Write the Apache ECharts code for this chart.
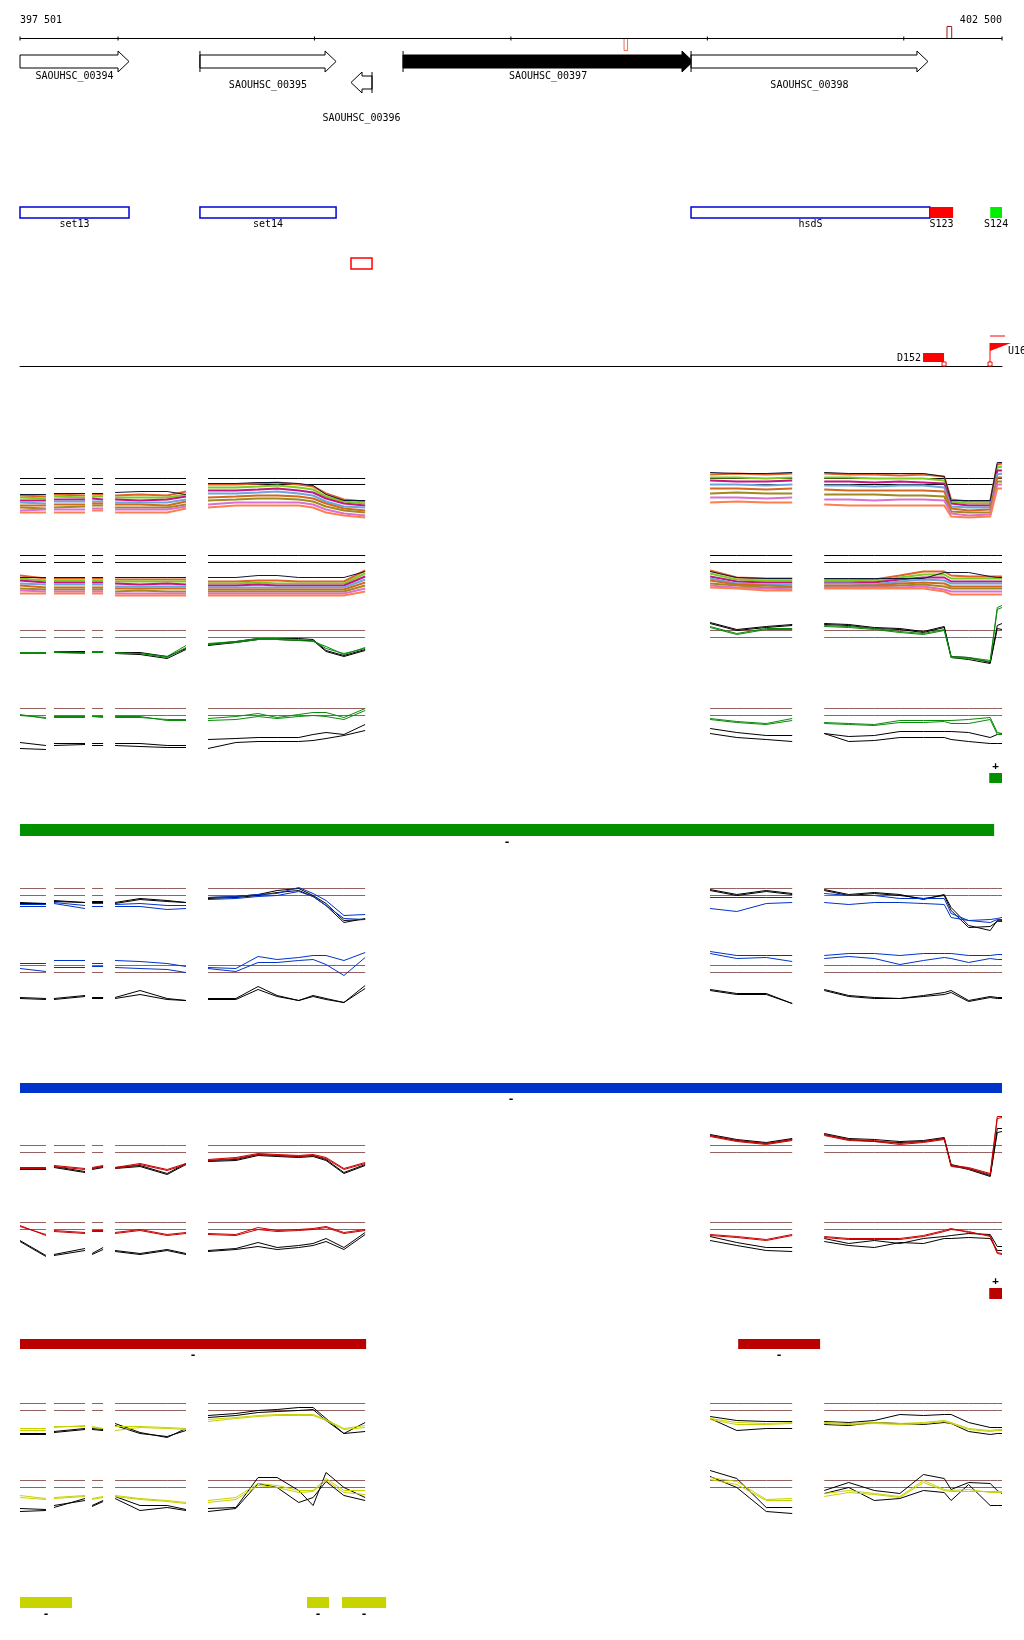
<!DOCTYPE html>
<html>
<head>
<meta charset="utf-8">
<title>SAOUHSC_00394 - SAOUHSC_00398</title>
<script src="https://cdn.jsdelivr.net/npm/echarts@6/dist/echarts.min.js"></script>
<style>
  html, body { margin: 0; padding: 0; background: #fff; }
  #chart { width: 1024px; height: 1640px; }
</style>
</head>
<body>
<div id="chart"></div>
<script>
// genome window
const viewStart = 397501;
const viewEnd = 402500;
const rulerTicks = [397501, 398000, 399000, 400000, 401000, 402000, 402500];
const rulerMarks = [[400576, 400594, 1], [402220, 402244, -1]]; // start, end, side of ruler
const rulerMarkKinds = ["probe", "repeat"];

// genes
const geneNames = ["SAOUHSC_00394", "SAOUHSC_00395", "SAOUHSC_00396", "SAOUHSC_00397", "SAOUHSC_00398"];
const geneStarts = [397501, 398417, 399186, 399451, 400917];
const geneEnds = [398056, 399110, 399293, 400927, 402123];
const geneStrands = [1, 1, -1, 1, 1];
const geneLanes = [0, 0, 1, 0, 0];
const geneHighlight = [0, 0, 0, 1, 0];
const geneLabelRows = [0, 1, 2, 0, 1];

// annotation features
const featNames = ["set13", "set14", "hsdS", "S123", "S124"];
const featStarts = [397501, 398417, 400917, 402133, 402440];
const featEnds = [398056, 399110, 402133, 402251, 402500];
const featKinds = ["cds", "cds", "cds", "srnaA", "srnaB"];
const boxSpans = [[399186, 399293]];

// transcription sites
const siteNames = ["D152", "U16"];
const siteStarts = [402098, 402439];
const siteEnds = [402205, 402439];
const siteKinds = ["down", "up"];

// probe positions (one array per covered segment)
const segPos = [
  [397501, 397633],
  [397674, 397832],
  [397868, 397924],
  [397985, 398112, 398250, 398346],
  [398458, 398600, 398713, 398810, 398920, 398993, 399059, 399150, 399258],
  [401014, 401150, 401300, 401432],
  [401595, 401720, 401850, 401980, 402100, 402206, 402241, 402330, 402440, 402476, 402500]
];

// track A: many conditions
const refsA = [47, 41];
const multiA = [
  [30,29, 31,30, 31,31, 30,31,30,34, 41,41,42,43,41,39,32,26,24, 51,52,51,52, 52,51,51,50,51,49,26,24,24,61,62],
  [28,27, 29,28, 29,29, 28,28,28,31, 38,38,39,40,38,36,29,24,22, 48,48,47,48, 48,48,47,47,47,45,24,22,22,58,59],
  [25,25, 26,26, 27,26, 26,25,26,29, 35,35,36,37,35,33,27,22,20, 45,44,44,45, 44,44,43,44,43,42,22,20,20,55,55],
  [23,22, 24,24, 24,24, 23,23,23,26, 32,32,33,34,32,30,24,19,18, 41,41,40,41, 40,40,39,40,40,38,19,18,18,51,52],
  [20,20, 21,21, 22,22, 21,21,20,24, 28,29,30,30,29,27,22,17,15, 37,37,36,37, 36,35,35,35,35,34,17,15,16,48,48],
  [18,17, 18,19, 20,20, 18,18,18,21, 25,26,27,27,26,24,19,15,13, 32,33,32,32, 31,31,31,30,30,29,14,13,13,44,44],
  [15,16, 16,16, 17,17, 16,16,16,19, 21,23,23,23,23,21,16,12,10, 28,28,27,28, 26,26,25,26,26,25,12,10,11,41,41],
  [13,13, 13,13, 15,15, 13,13,13,17, 18,20,20,20,20,18,13,10,8, 23,24,23,23, 21,20,20,20,20,20,9,8,9,37,37]
];
const blackA = [31,31, 32,32, 32,32, 33,34,34,31, 42,42,43,43,42,40,31,25,25, 53,52,52,53, 53,52,52,52,52,49,25,25,25,63,63];

// track B: many conditions
const refsB = [50, 43];
const multiB = [
  [30,27, 27,27, 27,27, 26,26,26,26, 24,24,25,25,24,24,24,24,35, 35,28,27,27, 26,26,26,30,34,34,30,29,29,29,29],
  [27,25, 25,25, 25,25, 24,24,24,24, 22,22,23,22,22,22,22,22,32, 32,26,25,25, 25,25,24,28,31,31,27,27,27,27,27],
  [25,23, 23,23, 23,23, 22,21,22,21, 20,20,21,20,20,20,20,20,29, 29,24,23,23, 23,23,23,26,28,28,24,24,24,24,24],
  [22,21, 21,21, 21,21, 19,19,19,19, 18,18,18,18,18,18,18,18,26, 27,22,21,21, 22,22,21,24,26,25,22,22,22,22,22],
  [20,18, 18,18, 18,18, 17,17,17,17, 16,16,16,16,16,16,16,16,23, 25,21,20,19, 20,20,20,22,23,22,19,19,19,19,19],
  [17,16, 16,16, 16,16, 14,15,14,14, 14,14,14,14,14,14,14,14,20, 22,20,18,18, 19,19,19,20,21,19,17,17,17,17,17],
  [15,14, 14,14, 14,14, 12,12,12,12, 12,12,12,12,12,12,12,12,17, 20,18,17,16, 18,18,18,18,19,16,14,14,14,14,14],
  [12,12, 12,12, 12,12, 10,10,10,10, 10,10,10,10,10,10,10,10,14, 18,17,15,15, 17,17,17,17,17,14,11,11,11,11,11]
];
const blackB = [28,28, 28,28, 28,28, 28,28,28,28, 28,28,30,30,28,28,28,28,34, 34,28,27,27, 27,27,27,27,27,33,33,33,29,28,28];

// track C / D: green condition
const refsC = [45, 38];
const greenC = [
  [23,23, 24,23, 24,24, 23,22,18,28, 32,34,37,37,36,35,27,22,27, 49,42,47,47, 50,49,47,44,42,46,19,18,15,68,70],
  [22,22, 23,22, 23,23, 22,22,19,30, 31,33,36,36,35,34,29,21,28, 48,41,46,46, 49,48,46,43,41,45,18,17,14,66,68]
];
const blackC = [
  [23,23, 24,24, 24,24, 23,23,19,27, 31,34,37,37,37,36,25,20,26, 53,46,49,51, 52,51,48,47,44,49,19,18,13,50,52],
  [22,22, 23,23, 23,24, 22,21,17,26, 30,33,36,36,35,35,24,19,25, 52,45,48,50, 51,50,47,46,43,48,18,16,12,47,46]
];
const refsD = [52, 45];
const greenD = [
  [46,42, 44,44, 44,44, 44,44,40,40, 42,44,47,43,46,48,48,43,52, 42,39,37,42, 38,37,36,40,40,40,40,41,43,28,27],
  [45,43, 43,43, 44,43, 43,43,41,41, 40,41,44,42,44,45,44,41,50, 41,38,36,40, 37,36,35,38,38,39,37,37,41,26,26]
];
const blackD = [
  [18,15, 17,17, 17,17, 17,17,15,15, 21,22,23,23,23,26,28,26,36, 32,28,25,25, 27,24,25,29,29,29,29,28,23,26,27],
  [12,11, 15,16, 15,15, 15,14,13,13, 12,18,19,19,19,20,22,25,30, 27,23,21,19, 27,19,20,23,23,23,21,19,17,17,17]
];

// track E / F: blue condition
const refsE = [52, 45];
const blueE = [
  [36,36, 38,35, 37,37, 36,37,35,35, 43,44,46,47,53,47,40,25,26, 43,43,43,43, 47,45,45,42,42,42,27,20,18,21,21],
  [34,34, 37,32, 34,34, 34,34,31,32, 41,42,44,45,49,44,35,22,21, 32,29,37,38, 38,36,38,38,37,36,23,20,21,22,23]
];
const blackE = [
  [38,37, 40,38, 39,39, 38,42,40,38, 43,44,46,50,52,45,37,20,21, 51,46,50,47, 51,46,48,46,41,46,33,15,10,20,19],
  [37,37, 39,38, 38,38, 37,41,39,38, 42,43,45,48,50,44,35,18,22, 50,45,49,46, 50,45,47,45,42,45,30,13,14,19,20]
];
const refsF = [50, 43];
const blueF = [
  [52,52, 55,55, 52,52, 55,54,52,49, 48,47,59,56,58,60,60,55,63, 64,60,60,60, 60,62,62,60,62,62,62,60,60,61,61],
  [47,44, 48,48, 49,49, 48,47,46,43, 47,44,53,53,55,56,51,40,58, 62,57,58,54, 57,59,57,51,55,58,57,53,57,56,56]
];
const blackF = [
  [18,17, 17,20, 18,18, 18,25,17,15, 17,17,29,20,15,20,17,13,30, 26,22,22,12, 26,20,18,17,20,23,25,15,19,18,18],
  [17,16, 16,19, 17,17, 17,21,16,15, 16,16,26,19,15,19,16,13,27, 25,21,21,12, 25,19,17,17,19,21,23,14,18,17,17]
];

// track G / H: red condition
const refsG = [40, 33];
const redG = [
  [18,18, 20,17, 18,20, 18,22,16,22, 26,28,32,31,30,31,28,17,23, 50,45,42,46, 51,46,45,42,44,47,20,18,12,69,69],
  [17,17, 19,16, 17,19, 17,21,15,21, 25,27,31,30,29,30,27,16,22, 49,44,41,45, 50,45,44,41,43,46,19,17,11,67,68]
];
const blackG = [
  [17,16, 19,14, 17,19, 18,20,12,22, 25,26,31,30,29,30,26,13,21, 51,46,43,47, 52,47,46,44,45,48,21,17,10,57,57],
  [16,16, 18,13, 16,18, 17,19,11,21, 24,25,30,29,28,29,25,12,20, 50,45,42,46, 51,46,44,43,44,47,20,16,9,53,54]
];
const refsH = [43, 36];
const redH = [
  [40,30, 35,33, 35,35, 33,36,31,33, 32,31,38,35,36,37,39,33,36, 31,29,26,31, 29,27,27,27,30,35,37,33,30,13,12],
  [39,31, 34,32, 34,34, 32,35,30,32, 31,30,36,34,35,36,38,32,35, 30,28,25,30, 28,26,26,26,29,34,36,34,29,12,11]
];
const blackH = [
  [25,10, 11,17, 12,18, 15,12,16,12, 15,17,23,18,20,22,27,18,33, 29,23,18,18, 27,22,25,22,27,29,30,32,31,19,19],
  [24,9, 10,15, 11,16, 14,11,15,11, 14,16,19,16,18,20,24,16,31, 25,20,15,14, 24,20,18,23,22,27,27,28,27,15,15]
];

// track I / J: yellow condition
const refsI = [42, 35];
const yellowI = [
  [17,17, 19,19, 19,17, 19,19,18,17, 26,28,30,31,31,31,26,17,20, 27,23,22,23, 23,22,23,22,23,25,23,17,15,16,16],
  [15,15, 18,20, 18,17, 15,18,17,16, 24,27,29,30,30,30,25,16,18, 26,21,21,22, 22,21,22,21,22,24,22,16,14,15,15]
];
const blackI = [
  [12,12, 14,17, 17,16, 22,13,8,17, 30,32,35,36,38,38,27,12,14, 29,25,24,24, 24,23,25,31,30,31,31,23,18,18,18],
  [11,11, 13,16, 16,15, 20,12,9,15, 28,30,33,34,35,36,25,12,23, 27,15,17,17, 21,20,23,22,21,23,22,14,11,12,12]
];
const refsJ = [45, 38];
const yellowJ = [
  [30,27, 28,30, 27,29, 30,27,25,23, 25,28,42,40,35,35,47,35,35, 48,44,26,27, 32,35,32,29,45,36,35,36,33,33,33],
  [28,26, 27,29, 26,28, 29,26,24,22, 23,26,40,38,33,34,45,33,31, 46,41,25,25, 29,33,31,28,43,35,34,34,34,34,34]
];
const blackJ = [
  [17,16, 18,27, 20,25, 29,20,20,16, 17,18,48,48,35,20,53,38,28, 55,47,18,18, 35,43,35,32,51,47,36,43,42,35,32],
  [14,15, 20,25, 19,24, 27,15,18,15, 14,17,42,38,23,28,44,30,25, 49,38,14,12, 32,38,25,27,35,33,25,41,20,20,20]
];

// segmentation bars
const plusGreenSpans = [[402435, 402500]];
const minusGreenSpans = [[397501, 402460]];
const minusBlueSpans = [[397501, 402500]];
const plusRedSpans = [[402435, 402500]];
const minusRedSpans = [[397501, 399263], [401157, 401574]];
const minusYellowSpans = [[397501, 397766], [398962, 399074], [399140, 399365]];

// ---------------------------------------------------------------
const FONT = '10px "DejaVu Sans Mono", monospace';
const SIGN_FONT = 'bold 11px "DejaVu Sans Mono", monospace';
const multiColors = ["#e2622c", "#7ccd1e", "#c71585", "#6ca6e0", "#d2691e", "#a08a20", "#da70d6", "#ff7f50"];
const brown = "#946060";

const grids = [];
const xAxes = [];
const yAxes = [];
const series = [];

function addGrid(top, height, yMin, yMax, inverse, baseLine) {
  const i = grids.length;
  grids.push({ left: 20, right: 22, top: top, height: height });
  xAxes.push({
    type: "value", gridIndex: i, min: viewStart, max: viewEnd, show: !!baseLine,
    position: "bottom",
    axisLine: { show: true, onZero: false, lineStyle: { color: "#000", width: 1 } },
    axisTick: { show: false }, axisLabel: { show: false }, splitLine: { show: false }
  });
  yAxes.push({ type: "value", gridIndex: i, min: yMin, max: yMax, inverse: !!inverse, show: false, splitLine: { show: false } });
  return i;
}

function lineData(vals) {
  const out = [];
  let k = 0;
  segPos.forEach((seg, si) => {
    seg.forEach(bp => out.push([bp, vals[k++]]));
    if (si < segPos.length - 1) {
      out.push([(seg[seg.length - 1] + segPos[si + 1][0]) / 2, "-"]);
    }
  });
  return out;
}

function addLine(gi, vals, color, width, z) {
  series.push({
    type: "line", xAxisIndex: gi, yAxisIndex: gi, data: lineData(vals),
    showSymbol: false, symbol: "none", silent: true, animation: false, z: z,
    lineStyle: { color: color, width: width }
  });
}

// grid tops sit on half pixels so 1px lines stay sharp
function addTrack(top, height, refs, refColor, colored, colors, blacks, blackColor, width, blackOnTop) {
  const gi = addGrid(top + 0.5, height, 0, height);
  const flat = segPos.flat();
  refs.forEach(r => addLine(gi, flat.map(() => r), refColor, 1, 1));
  if (!blackOnTop) blacks.forEach(b => addLine(gi, b, blackColor, 1, 2));
  colored.forEach((c, i) => addLine(gi, c, colors[i % colors.length], width, 3));
  if (blackOnTop) blacks.forEach(b => addLine(gi, b, blackColor, 1, 4));
}

function addBars(top, height, spans, color, sign, above) {
  const gi = addGrid(top, height, 0, 1);
  series.push({
    type: "custom", xAxisIndex: gi, yAxisIndex: gi, silent: true, animation: false,
    data: spans,
    renderItem: function (params, api) {
      const a = api.coord([api.value(0), 1]);
      const b = api.coord([api.value(1), 0]);
      return {
        type: "group",
        children: [
          { type: "rect", shape: { x: a[0], y: a[1], width: b[0] - a[0], height: b[1] - a[1] }, style: { fill: color } },
          { type: "text", style: { text: sign, x: (a[0] + b[0]) / 2, y: above ? a[1] - 7 : b[1] + 6, align: "center", verticalAlign: "middle", font: SIGN_FONT, fill: "#000" } }
        ]
      };
    }
  });
}

// ruler
const gRuler = addGrid(26.5, 24, -1, 1, true);
series.push({
  type: "line", xAxisIndex: gRuler, yAxisIndex: gRuler, silent: true, animation: false, symbol: "none",
  data: [[viewStart, 0], [viewEnd, 0]], lineStyle: { color: "#000", width: 1 }
});
series.push({
  type: "custom", xAxisIndex: gRuler, yAxisIndex: gRuler, silent: true, animation: false,
  data: rulerTicks.map(v => [v]),
  renderItem: function (params, api) {
    const p = api.coord([api.value(0), 0]);
    return { type: "line", shape: { x1: p[0], y1: p[1] - 2, x2: p[0], y2: p[1] + 2 }, style: { stroke: "#000", lineWidth: 1 } };
  }
});
series.push({
  type: "custom", xAxisIndex: gRuler, yAxisIndex: gRuler, silent: true, animation: false,
  data: [[viewStart], [viewEnd]],
  renderItem: function (params, api) {
    const v = api.value(0);
    const p = api.coord([v, -1]);
    const txt = Math.floor(v / 1000) + " " + String(v % 1000).padStart(3, "0");
    return { type: "text", style: { text: txt, x: p[0], y: p[1] - 6, align: params.dataIndex === 0 ? "left" : "right", verticalAlign: "middle", font: FONT, fill: "#000" } };
  }
});
series.push({
  type: "custom", xAxisIndex: gRuler, yAxisIndex: gRuler, silent: true, animation: false,
  data: rulerMarks,
  renderItem: function (params, api) {
    const a = api.coord([api.value(0), 0]);
    const b = api.coord([api.value(1), api.value(2)]);
    const color = rulerMarkKinds[params.dataIndex] === "probe" ? "#f07050" : "#a01818";
    return { type: "rect", shape: { x: a[0], y: Math.min(a[1], b[1]), width: b[0] - a[0], height: Math.abs(b[1] - a[1]) }, style: { fill: "#fff", stroke: color, lineWidth: 1 } };
  }
});

// genes
const labelDrop = [14.5, 23.5, 35.5];
const gGenes = addGrid(51, 42, -0.5, 1.5, true);
series.push({
  type: "custom", xAxisIndex: gGenes, yAxisIndex: gGenes, silent: true, animation: false,
  data: geneNames.map((n, i) => [geneStarts[i], geneEnds[i], geneStrands[i], geneLanes[i], geneHighlight[i], geneLabelRows[i]]),
  renderItem: function (params, api) {
    const s = api.value(0), e = api.value(1), strand = api.value(2), lane = api.value(3);
    const filled = api.value(4), lvl = api.value(5);
    const a = api.coord([s, lane]), b = api.coord([e, lane]);
    const x0 = a[0], x1 = b[0], y = a[1];
    const hs = 6.5, hh = 10.5, hl = 11;
    let pts;
    if (strand > 0) {
      pts = [[x0, y - hs], [x1 - hl, y - hs], [x1 - hl, y - hh], [x1, y], [x1 - hl, y + hh], [x1 - hl, y + hs], [x0, y + hs]];
    } else {
      pts = [[x1, y - hs], [x0 + hl, y - hs], [x0 + hl, y - hh], [x0, y], [x0 + hl, y + hh], [x0 + hl, y + hs], [x1, y + hs]];
    }
    const children = [{ type: "polygon", shape: { points: pts }, style: { fill: filled ? "#000" : "#fff", stroke: "#000", lineWidth: 1 } }];
    const startBp = strand > 0 ? s : e;
    if (startBp > viewStart && startBp < viewEnd) {
      const sx = strand > 0 ? x0 : x1;
      children.push({ type: "line", shape: { x1: sx, y1: y - hh, x2: sx, y2: y + hh }, style: { stroke: "#000", lineWidth: 1 } });
    }
    children.push({ type: "text", style: { text: geneNames[params.dataIndex], x: (x0 + x1) / 2, y: y + labelDrop[lvl], align: "center", verticalAlign: "middle", font: FONT, fill: "#000" } });
    return { type: "group", children: children };
  }
});

// annotated features
const featStyles = {
  cds: { fill: "#fff", stroke: "#0000dd", lineWidth: 1.5 },
  srnaA: { fill: "#ff0000" },
  srnaB: { fill: "#00ee00" }
};
const gFeat = addGrid(207, 11, 0, 1);
series.push({
  type: "custom", xAxisIndex: gFeat, yAxisIndex: gFeat, silent: true, animation: false,
  data: featNames.map((n, i) => [featStarts[i], featEnds[i]]),
  renderItem: function (params, api) {
    const a = api.coord([api.value(0), 1]), b = api.coord([api.value(1), 0]);
    return {
      type: "group",
      children: [
        { type: "rect", shape: { x: a[0], y: a[1], width: b[0] - a[0], height: b[1] - a[1] }, style: featStyles[featKinds[params.dataIndex]] },
        { type: "text", style: { text: featNames[params.dataIndex], x: (a[0] + b[0]) / 2, y: b[1] + 6, align: "center", verticalAlign: "middle", font: FONT, fill: "#000" } }
      ]
    };
  }
});
const gBox = addGrid(258, 11, 0, 1);
series.push({
  type: "custom", xAxisIndex: gBox, yAxisIndex: gBox, silent: true, animation: false,
  data: boxSpans,
  renderItem: function (params, api) {
    const a = api.coord([api.value(0), 1]), b = api.coord([api.value(1), 0]);
    return { type: "rect", shape: { x: a[0], y: a[1], width: b[0] - a[0], height: b[1] - a[1] }, style: { fill: "#fff", stroke: "#ff0000", lineWidth: 1.5 } };
  }
});

// transcription start / end sites on a baseline
const gSite = addGrid(336, 30, 0, 1, false, true);
series.push({
  type: "custom", xAxisIndex: gSite, yAxisIndex: gSite, silent: true, animation: false,
  data: siteNames.map((n, i) => [siteStarts[i], siteEnds[i]]),
  renderItem: function (params, api) {
    const a = api.coord([api.value(0), 0]), b = api.coord([api.value(1), 0]);
    const base = a[1];
    const red = "#ff0000";
    const name = siteNames[params.dataIndex];
    if (siteKinds[params.dataIndex] === "down") {
      return {
        type: "group", children: [
          { type: "rect", shape: { x: a[0], y: base - 13, width: b[0] - a[0], height: 9 }, style: { fill: red } },
          { type: "rect", shape: { x: b[0] - 2, y: base - 4, width: 4, height: 4 }, style: { fill: "#fff", stroke: red, lineWidth: 1 } },
          { type: "text", style: { text: name, x: a[0] - 2, y: base - 8, align: "right", verticalAlign: "middle", font: FONT, fill: "#000" } }
        ]
      };
    }
    const x = a[0];
    return {
      type: "group", children: [
        { type: "line", shape: { x1: x, y1: base, x2: x, y2: base - 23 }, style: { stroke: red, lineWidth: 1 } },
        { type: "polygon", shape: { points: [[x, base - 23], [x + 21, base - 23], [x, base - 15]] }, style: { fill: red } },
        { type: "rect", shape: { x: x - 2, y: base - 4, width: 4, height: 4 }, style: { fill: "#fff", stroke: red, lineWidth: 1 } },
        { type: "line", shape: { x1: x, y1: base - 30, x2: x + 15, y2: base - 30 }, style: { stroke: red, lineWidth: 1 } },
        { type: "text", style: { text: name, x: x + 18, y: base - 15, align: "left", verticalAlign: "middle", font: FONT, fill: "#000" } }
      ]
    };
  }
});

// expression tracks
addTrack(455, 70, refsA, "#000", multiA, multiColors, [blackA], "#101838", 2, true);
addTrack(545, 60, refsB, "#000", multiB, multiColors, [blackB], "#101838", 2, true);
addTrack(595, 80, refsC, brown, greenC, ["#0a8a0a"], blackC, "#000", 1, false);
addTrack(695, 65, refsD, brown, greenD, ["#0a8a0a"], blackD, "#000", 1, false);
addBars(773, 10, plusGreenSpans, "#009000", "+", true);
addBars(824, 12, minusGreenSpans, "#009000", "-", false);

addTrack(875, 65, refsE, brown, blueE, ["#0033cc"], blackE, "#000", 1, false);
addTrack(940, 75, refsF, brown, blueF, ["#0033cc"], blackF, "#000", 1, false);
addBars(1083, 10, minusBlueSpans, "#0033cc", "-", false);

addTrack(1105, 80, refsG, brown, redG, ["#cc0000"], blackG, "#000", 1, false);
addTrack(1205, 60, refsH, brown, redH, ["#cc0000"], blackH, "#000", 1, false);
addBars(1288, 11, plusRedSpans, "#bb0000", "+", true);
addBars(1339, 10, minusRedSpans, "#bb0000", "-", false);

addTrack(1395, 50, refsI, brown, yellowI, ["#c8d200"], blackI, "#000", 1, false);
addTrack(1465, 60, refsJ, brown, yellowJ, ["#c8d200"], blackJ, "#000", 1, false);
addBars(1597, 11, minusYellowSpans, "#c8d400", "-", false);

const chart = echarts.init(document.getElementById("chart"), null, { renderer: "canvas" });
chart.setOption({
  animation: false,
  backgroundColor: "#fff",
  grid: grids,
  xAxis: xAxes,
  yAxis: yAxes,
  series: series
});
</script>
</body>
</html>
